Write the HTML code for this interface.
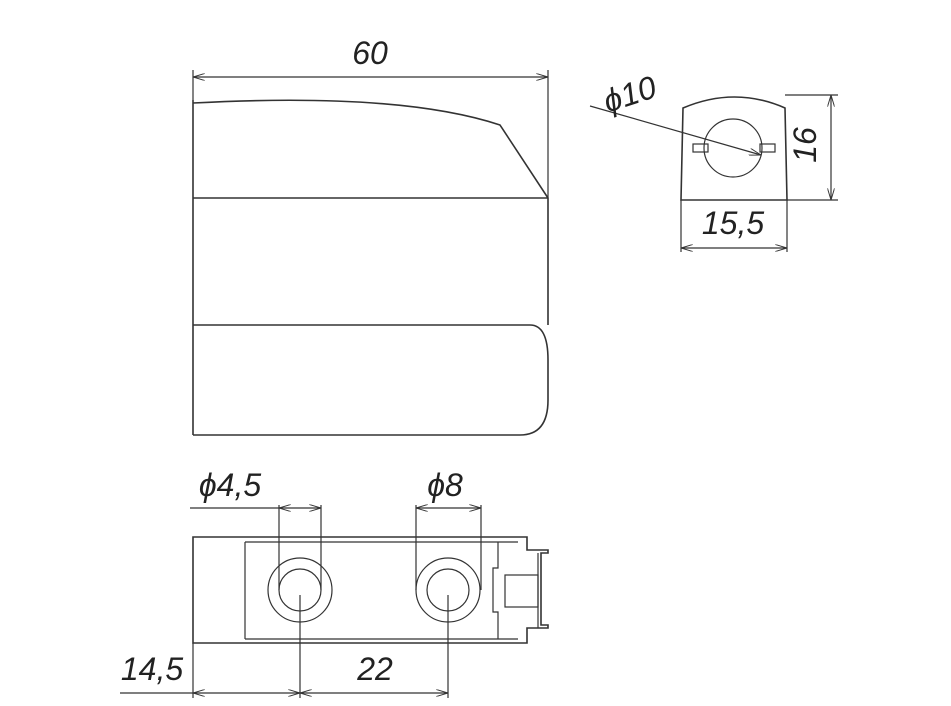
<!DOCTYPE html>
<html><head><style>body{margin:0;background:#fff}svg{display:block}</style></head><body>
<svg width="951" height="706" viewBox="0 0 951 706" xmlns="http://www.w3.org/2000/svg" font-family="Liberation Sans, sans-serif" font-style="italic" fill="none" stroke="#333" stroke-width="1.2">
<defs><marker id="a" viewBox="0 0 10 6" refX="10" refY="3" markerWidth="10" markerHeight="6" orient="auto-start-reverse"><path d="M0,0 L10,3 L0,6" stroke="#333" stroke-width="0.8"/></marker></defs>
<!-- main view -->
<path d="M193,100 V435 M193,103 Q400,92 500,125 L548,198 V325 M193,198 H548 M193,325 H530 Q548,325 548,360 V400 Q548,435 520,435 H193" stroke-width="1.6"/>
<path d="M193,70 V100 M548,70 V198" />
<line x1="193" y1="77" x2="548" y2="77" marker-start="url(#a)" marker-end="url(#a)"/>
<!-- side view -->
<path d="M683,108 Q735,86 785,108 L787,200 H681 Z" stroke-width="1.6"/>
<circle cx="733" cy="148" r="29"/>
<rect x="693" y="144" width="15" height="8"/><rect x="760" y="144" width="15" height="8"/>
<line x1="590" y1="106" x2="761" y2="155" marker-end="url(#a)"/>
<path d="M785,95 H838 M787,200 H838 M681,200 V252 M787,200 V252"/>
<line x1="831" y1="95" x2="831" y2="200" marker-start="url(#a)" marker-end="url(#a)"/>
<line x1="681" y1="248" x2="787" y2="248" marker-start="url(#a)" marker-end="url(#a)"/>
<!-- bottom view -->
<path d="M193,537 H527 V550 H548 V553 H541 V625 H548 V628 H527 V643 H193 Z" stroke-width="1.6"/>
<path d="M245,542 H518 M245,639 H518 M245,542 V639 M498,542 V568 H493 V612 H498 V639 M538,553 V628"/>
<rect x="505" y="575" width="33" height="32"/>
<circle cx="300" cy="590" r="32"/><circle cx="300" cy="590" r="21"/>
<circle cx="448" cy="590" r="32"/><circle cx="448" cy="590" r="21"/>
<path d="M279,505 V590 M321,505 V590 M416,505 V590 M481,505 V590 M193,643 V698 M300,595 V698 M448,595 V698"/>
<line x1="190" y1="508" x2="279" y2="508"/>
<line x1="279" y1="508" x2="321" y2="508" marker-start="url(#a)" marker-end="url(#a)"/>
<line x1="416" y1="508" x2="481" y2="508" marker-start="url(#a)" marker-end="url(#a)"/>
<line x1="120" y1="693" x2="193" y2="693"/>
<line x1="193" y1="693" x2="300" y2="693" marker-start="url(#a)" marker-end="url(#a)"/>
<line x1="300" y1="693" x2="448" y2="693" marker-start="url(#a)" marker-end="url(#a)"/>
<g fill="#222" stroke="none" font-size="32">
<text x="370" y="64" text-anchor="middle">60</text>
<text x="630" y="105" text-anchor="middle" transform="rotate(-18 630 95)">ϕ10</text>
<text x="805" y="156" text-anchor="middle" transform="rotate(-90 805 145)">16</text>
<text x="733" y="234" text-anchor="middle">15,5</text>
<text x="230" y="496" text-anchor="middle">ϕ4,5</text>
<text x="445" y="496" text-anchor="middle">ϕ8</text>
<text x="152" y="680" text-anchor="middle">14,5</text>
<text x="375" y="680" text-anchor="middle">22</text>
</g>
</svg>
</body></html>
